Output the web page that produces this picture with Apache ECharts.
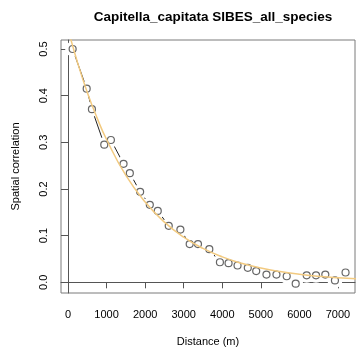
<!DOCTYPE html>
<html>
<head>
<meta charset="utf-8">
<script src="https://cdn.jsdelivr.net/npm/echarts@6/dist/echarts.min.js"></script>
<style>
html,body{margin:0;padding:0;background:#fff;}
#chart{width:356px;height:358px;}
</style>
</head>
<body>
<div id="chart"></div>
<script>
// Observed spatial correlation by distance class
var distances = [120, 484, 620, 940, 1112, 1440, 1603, 1870, 2121, 2327, 2612, 2914, 3155, 3370, 3664, 3939, 4163, 4396, 4662, 4880, 5146, 5405, 5671, 5904, 6189, 6431, 6672, 6922, 7197];
var correlations = [0.500, 0.415, 0.371, 0.295, 0.305, 0.254, 0.234, 0.194, 0.166, 0.153, 0.121, 0.113, 0.082, 0.082, 0.071, 0.043, 0.041, 0.036, 0.031, 0.024, 0.0165, 0.0165, 0.013, -0.003, 0.015, 0.015, 0.0165, 0.004, 0.021];
// Fitted decay curve
var curveX = [0, 250, 500, 750, 1000, 1500, 2000, 2500, 3000, 3500, 4000, 4500, 5000, 5500, 6000, 6500, 7000, 7500];
var curveY = [0.543, 0.470, 0.407, 0.353, 0.306, 0.229, 0.172, 0.129, 0.0968, 0.0726, 0.0545, 0.0409, 0.0307, 0.0230, 0.0173, 0.0130, 0.0097, 0.0073];
// Tick labels
var xTicks = [0, 1000, 2000, 3000, 4000, 5000, 6000, 7000];
var yTicks = [0.0, 0.1, 0.2, 0.3, 0.4, 0.5];

var obs = distances.map(function (d, i) { return [d, correlations[i]]; });
var fit = curveX.map(function (d, i) { return [d, curveY[i]]; });

var chart = echarts.init(document.getElementById('chart'), null, {renderer: 'canvas'});
var font = 'Liberation Sans, Arial, Helvetica, sans-serif';
chart.setOption({
  animation: false,
  backgroundColor: '#ffffff',
  title: {
    text: 'Capitella_capitata SIBES_all_species',
    left: 208, top: 5, textAlign: 'center',
    textStyle: {fontFamily: font, fontSize: 13.5, fontWeight: 'bold', color: '#000'}
  },
  grid: {left: 61, top: 40, right: 1, bottom: 65, show: true, borderColor: '#7a7a7a', borderWidth: 1, backgroundColor: 'transparent'},
  xAxis: {
    type: 'value', min: -182, max: 7442,
    name: 'Distance (m)', nameLocation: 'middle', nameGap: 43,
    nameTextStyle: {fontFamily: font, fontSize: 11, color: '#000'},
    axisLine: {show: true, lineStyle: {color: '#555', width: 1}},
    axisTick: {show: true, length: 6, lineStyle: {color: '#555'}, customValues: xTicks},
    axisLabel: {fontFamily: font, fontSize: 11, color: '#000', margin: 16, customValues: xTicks,
      formatter: function (v) { return String(Math.round(v)); }},
    splitLine: {show: false}
  },
  yAxis: {
    type: 'value', min: -0.0229, max: 0.5193,
    name: 'Spatial correlation', nameLocation: 'middle', nameGap: 40,
    nameTextStyle: {fontFamily: font, fontSize: 11, color: '#000'},
    axisLine: {show: true, lineStyle: {color: '#555', width: 1}},
    axisTick: {show: true, length: 7, lineStyle: {color: '#555'}, customValues: yTicks},
    axisLabel: {fontFamily: font, fontSize: 11, color: '#000', margin: 12, rotate: 90,
      customValues: yTicks, formatter: function (v) { return v.toFixed(1); }},
    splitLine: {show: false}
  },
  series: [
    {type: 'line', data: obs, symbol: 'none', z: 1, silent: true,
      lineStyle: {color: '#222', width: 1}},
    {type: 'scatter', data: obs, symbol: 'circle', symbolSize: 15, z: 2, silent: true,
      itemStyle: {color: '#ffffff', opacity: 1}},
    {type: 'scatter', data: obs, symbol: 'circle', symbolSize: 7, z: 3, silent: true,
      itemStyle: {color: '#ffffff', borderColor: '#666', borderWidth: 1.2, opacity: 1}},
    {type: 'line', data: fit, smooth: true, symbol: 'none', z: 4, silent: true, clip: true,
      lineStyle: {color: '#F2CA80', width: 1.5}}
  ]
});
</script>
</body>
</html>
